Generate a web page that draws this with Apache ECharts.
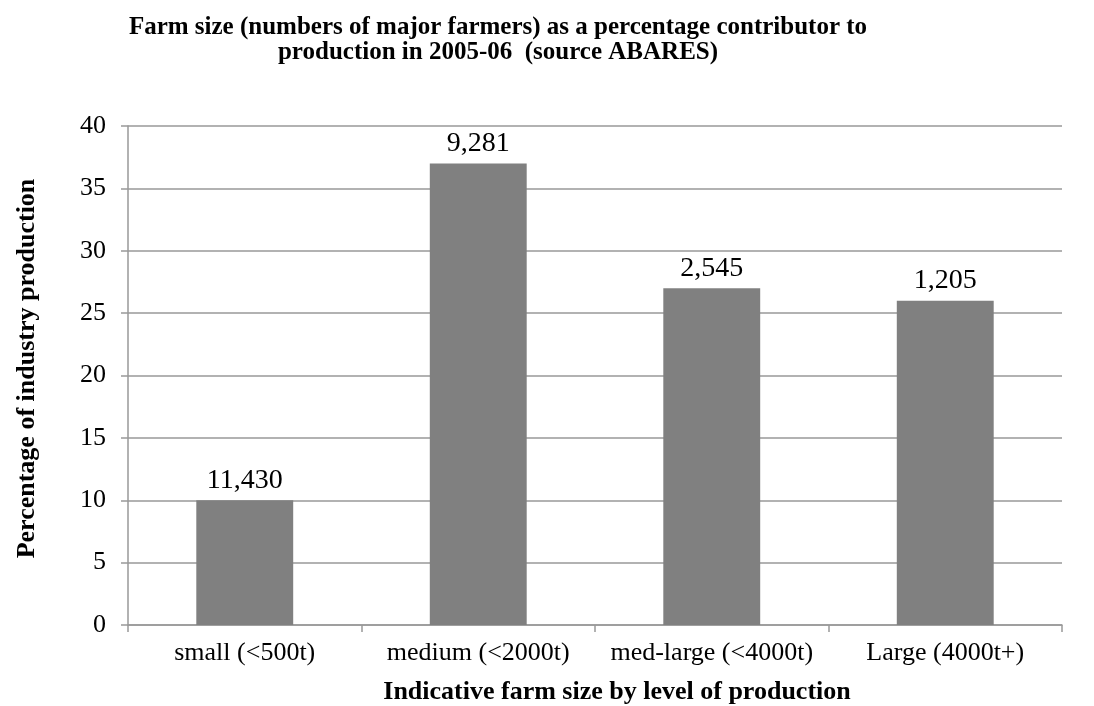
<!DOCTYPE html>
<html>
<head>
<meta charset="utf-8">
<script src="https://cdn.jsdelivr.net/npm/echarts@6/dist/echarts.min.js"></script>
<style>
  html, body { margin: 0; padding: 0; background: #fff; }
  #chart { width: 1094px; height: 706px; }
</style>
</head>
<body>
<div id="chart"></div>
<script>
// Farm size categories and their share of industry production (%)
const categories = ['small (<500t)', 'medium (<2000t)', 'med-large (<4000t)', 'Large (4000t+)'];
const productionShare = [10, 37, 27, 26];
// Number of major farmers in each size class, shown above the bars
const farmerCounts = ['11,430', '9,281', '2,545', '1,205'];
const yTicks = { min: 0, max: 40, interval: 5 };

const FONT = '"Liberation Serif", "Times New Roman", serif';

const chart = echarts.init(document.getElementById('chart'), null, { renderer: 'canvas' });
chart.setOption({
  animation: false,
  backgroundColor: '#ffffff',
  title: {
    text: 'Farm size (numbers of major farmers) as a percentage contributor to\nproduction in 2005-06  (source ABARES)',
    left: 493,
    top: 10,
    textAlign: 'center',
    textStyle: {
      fontFamily: FONT, fontSize: 25, fontWeight: 'bold', color: '#000',
      lineHeight: 25, align: 'center'
    }
  },
  grid: {
    left: 128, right: 32, top: 126, bottom: 81,
    containLabel: false,
    outerBoundsMode: 'none'
  },
  xAxis: {
    type: 'category',
    data: categories,
    name: 'Indicative farm size by level of production',
    nameLocation: 'middle',
    nameGap: 54,
    nameTextStyle: {
      fontFamily: FONT, fontSize: 26, fontWeight: 'bold', color: '#000',
      padding: [0, 0, 0, 44]
    },
    axisLine: { show: true, lineStyle: { color: '#999999', width: 1.5 } },
    axisTick: { show: true, alignWithLabel: false, length: 7, lineStyle: { color: '#999999', width: 1.5 } },
    axisLabel: { interval: 0, hideOverlap: false, fontFamily: FONT, fontSize: 26, color: '#000', margin: 15 },
    splitLine: { show: false }
  },
  yAxis: {
    type: 'value',
    min: yTicks.min, max: yTicks.max, interval: yTicks.interval,
    name: 'Percentage of industry production',
    nameLocation: 'middle',
    nameGap: 88,
    nameTextStyle: {
      fontFamily: FONT, fontSize: 26, fontWeight: 'bold', color: '#000',
      padding: [0, 0, 0, 14]
    },
    axisLine: { show: true, lineStyle: { color: '#999999', width: 1.5 } },
    axisTick: { show: true, length: 7, lineStyle: { color: '#999999', width: 1.5 } },
    axisLabel: { fontFamily: FONT, fontSize: 26, color: '#000', margin: 22 },
    splitLine: { show: true, lineStyle: { color: '#999999', width: 1.5 } }
  },
  series: [{
    type: 'bar',
    data: productionShare,
    barWidth: '41.5%',
    itemStyle: { color: '#808080' },
    label: {
      show: true,
      position: 'top',
      distance: 6,
      fontFamily: FONT, fontSize: 28, color: '#000',
      formatter: p => farmerCounts[p.dataIndex]
    }
  }]
});
</script>
</body>
</html>
